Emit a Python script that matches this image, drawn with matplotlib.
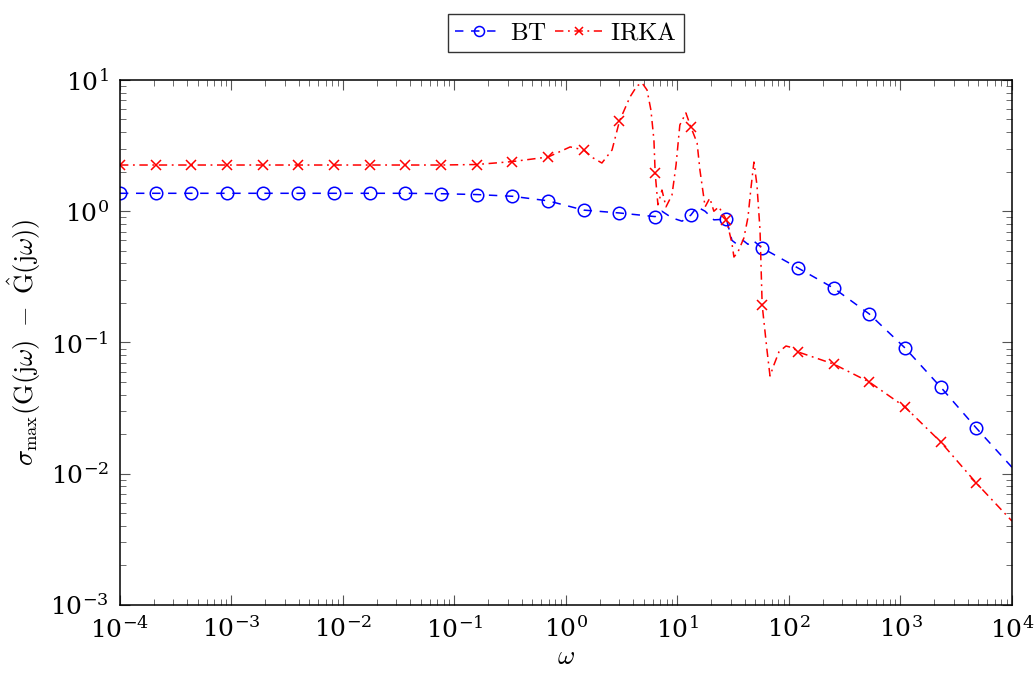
import numpy as np
import matplotlib
matplotlib.use('Agg')
import matplotlib.pyplot as plt

plt.rcParams['mathtext.fontset'] = 'cm'
plt.rcParams['font.family'] = 'serif'
plt.rcParams['font.serif'] = ['DejaVu Serif']

# frequencies where marks are drawn (every 20th sample in the original)
w_mark = [1e-4, 2.09e-4, 4.37e-4, 9.12e-4, 1.91e-3, 3.98e-3, 8.32e-3, 1.74e-2,
          3.63e-2, 7.59e-2, 0.158, 0.331, 0.692, 1.445, 3.02, 6.31, 13.18,
          27.5, 57.5, 120.2, 251, 525, 1096, 2291, 4786]

bt_mark = [1.37, 1.37, 1.37, 1.37, 1.37, 1.37, 1.37, 1.37, 1.37, 1.36, 1.34,
           1.30, 1.20, 1.02, 0.97, 0.91, 0.935, 0.87, 0.525, 0.37, 0.26,
           0.165, 0.091, 0.0458, 0.0223]
irka_mark = [2.25, 2.25, 2.25, 2.25, 2.25, 2.25, 2.25, 2.25, 2.25, 2.25, 2.27,
             2.39, 2.59, 2.93, 4.87, 1.95, 4.39, 0.86, 0.193, 0.0848, 0.0686,
             0.050, 0.0323, 0.0175, 0.0085]

# extra curve points between marks
w_bt_extra = [7.26, 8.93, 11.0, 15.0, 17.7, 21.2, 30.8, 34.2, 38.7, 42.9, 47.5, 1e4]
bt_extra = [1.0, 0.89, 0.84, 1.08, 1.0, 0.86, 0.60, 0.56, 0.60, 0.56, 0.60, 0.0112]

w_irka_extra = [1.09, 1.75, 2.10, 2.59, 3.75, 4.33, 4.81, 5.33, 5.78, 6.15,
                6.68, 7.26, 7.89, 8.93, 9.71, 10.5, 11.9, 15.0, 15.9, 17.7,
                19.5, 21.2, 23.5, 30.8, 32.1, 34.9, 39.4, 42.9, 45.6, 48.5,
                51.6, 55.0, 63.5, 67.6, 73.3, 81.3, 94.0, 109, 1e4]
irka_extra = [3.09, 2.55, 2.33, 2.93, 7.42, 9.0, 9.5, 8.4, 5.9, 3.49,
              1.12, 1.45, 1.08, 1.33, 2.25, 4.54, 5.61, 3.31, 2.06, 1.08,
              1.26, 1.0, 1.08, 0.57, 0.448, 0.49, 0.625, 0.90, 1.50, 2.37,
              1.59, 0.72, 0.0877, 0.0556, 0.0675, 0.0848, 0.094, 0.091, 0.00436]


def merge(wm, vm, we, ve):
    w = np.array(list(wm) + list(we))
    v = np.array(list(vm) + list(ve))
    order = np.argsort(w)
    w, v = w[order], v[order]
    marks = [i for i, x in enumerate(w) if x in wm]
    return w, v, marks


w_bt, s_bt, m_bt = merge(w_mark, bt_mark, w_bt_extra, bt_extra)
w_ir, s_ir, m_ir = merge(w_mark, irka_mark, w_irka_extra, irka_extra)

fig = plt.figure(figsize=(10.36, 6.75), dpi=100)
ax = fig.add_axes([0.1158, 0.1037, 0.861, 0.7778])

ax.loglog(w_bt, s_bt, color='blue', lw=1.1, dashes=(5.5, 5),
          marker='o', ms=9, mfc='none', mec='blue', mew=1.1,
          markevery=m_bt, label=r'$\mathrm{BT}$')
ax.loglog(w_ir, s_ir, color='red', lw=1.1, dashes=(5.5, 3, 1.2, 3),
          marker='x', ms=7, mec='red', mew=1.1,
          markevery=m_ir, label=r'$\mathrm{IRKA}$')

ax.set_xlim(1e-4, 1e4)
ax.set_ylim(1e-3, 1e1)
ax.set_xticks([10.0**k for k in range(-4, 5)])
ax.set_yticks([10.0**k for k in range(-3, 2)])
ax.tick_params(which='both', direction='in', top=True, right=True,
               labelsize=18, color='#555555')
ax.tick_params(which='major', length=7, width=0.8, pad=8)
ax.tick_params(which='minor', length=4.5, width=0.6)
for sp in ax.spines.values():
    sp.set_linewidth(1.1)

ax.set_xlabel(r'$\omega$', fontsize=19, labelpad=1)
ax.set_ylabel(r'$\sigma_{\max}(\mathrm{G}(\mathrm{j}\omega)\ -\ \hat{\mathrm{G}}(\mathrm{j}\omega))$',
              fontsize=19, labelpad=5)

leg = ax.legend(loc='lower center', bbox_to_anchor=(0.5, 1.053), ncol=2,
                fontsize=18, frameon=True, fancybox=False, edgecolor='black',
                handlelength=1.9, columnspacing=0.3, handletextpad=0.3,
                borderpad=0.3, borderaxespad=0, markerscale=0.8)
leg.get_frame().set_linewidth(1.0)

fig.savefig('out.png', dpi=100)
